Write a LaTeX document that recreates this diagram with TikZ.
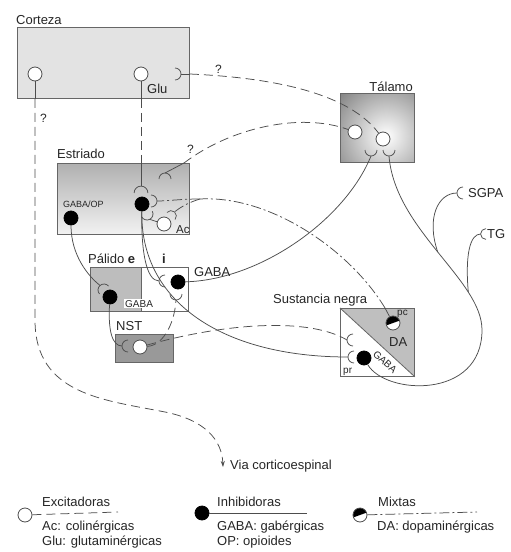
\documentclass[tikz,border=0pt]{standalone}
\usepackage{fontspec}
\setmainfont{Liberation Sans}
\usetikzlibrary{arrows.meta}
\definecolor{ln}{HTML}{4D4D4D}
\definecolor{bd}{HTML}{666666}
\begin{document}
\begin{tikzpicture}[x=1pt,y=1pt,
  lbl/.style={font=\fontsize{13}{15}\selectfont, inner sep=0pt, text=black!85},
  sml/.style={font=\fontsize{10}{11}\selectfont, inner sep=0pt, text=black!85},
  q/.style={font=\fontsize{12}{12}\selectfont, inner sep=0pt, text=black!85, anchor=base west},
  axon/.style={draw=ln, line width=0.75pt},
  excl/.style={axon, dash pattern=on 9pt off 5pt},
  mixl/.style={axon, dash pattern=on 10pt off 3pt on 2pt off 3pt},
  exc/.style={circle, draw=ln, fill=white, line width=0.8pt, minimum size=14pt, inner sep=0pt},
  inh/.style={exc, fill=black, draw=black},
  mix/.style={exc, path picture={\fill[black] (path picture bounding box.center) -- ++(20:7.5) arc[start angle=20,end angle=200,radius=7.5] -- cycle;}},
  area/.style={draw=bd, line width=0.8pt, inner sep=0pt, anchor=north west},
  cupr/.pic={\draw[axon] (0,6) arc[start angle=90,end angle=270,radius=6]; \coordinate (-s) at (-6,0);}
]
\useasboundingbox (0,0) rectangle (511,-552);
\fill[white] (0,0) rectangle (511,-552);

% ---------- areas ----------
\node[area, fill=gray!22, minimum width=172pt, minimum height=71pt] (cortex) at (17,-27) {};
\begin{scope}
  \clip (340,-93) rectangle (414,-162);
  \fill[black!48] (340,-93) rectangle (414,-162);
  \shade[inner color=white, outer color=black!48] (386,-136) circle (62pt);
\end{scope}
\node[area, minimum width=74pt, minimum height=69pt] (thal) at (340,-93) {};
\node[area, top color=gray!62, bottom color=gray!10, minimum width=132pt, minimum height=71pt] (striatum) at (57,-163) {};
\node[area, fill=gray!52, minimum width=51pt, minimum height=44pt] (gpe) at (90,-267) {};
\node[area, fill=white, minimum width=47pt, minimum height=44pt] (gpi) at (141,-267) {};
\node[area, fill=gray!80, minimum width=58pt, minimum height=28pt] (nst) at (115,-334) {};
\node[area, fill=white, minimum width=74pt, minimum height=68pt] (sn) at (340,-308) {};
\fill[gray!50] (sn.north west) -- (sn.north east) -- (sn.south east) -- cycle;
\draw[bd, line width=0.8pt] (sn.north west) -- (sn.south east);
\draw[bd, line width=0.8pt] (sn.north west) rectangle (sn.south east);

% ---------- neurons ----------
\node[exc] (c1) at (35,-74) {};
\node[exc] (c2) at (141,-74) {};
\node[exc] (t1) at (355,-132) {};
\node[exc] (t2) at (383,-139) {};
\node[inh] (s1) at (71,-218) {};
\node[inh] (s2) at (142,-204) {};
\node[exc] (ac) at (164,-224) {};
\node[inh] (e1) at (110,-297) {};
\node[inh] (i1) at (178,-282) {};
\node[exc] (n1) at (140,-347) {};
\node[mix] (sn1) at (393,-323) {};
\node[inh] (sn2) at (364,-358) {};

% ---------- terminals (cups) ----------
\pic[rotate=180] (cc) at (175,-74) {cupr};
\pic[rotate=90] (tl) at (371,-150) {cupr};
\pic[rotate=90] (tr) at (389,-150) {cupr};
\pic[rotate=-90] (ys) at (165,-179) {cupr};
\pic[rotate=-90, scale=1.15] (sa) at (141,-193) {cupr};
\pic[rotate=180] (ca) at (151,-201) {cupr};
\pic[rotate=117] (cb) at (147,-214) {cupr};
\pic[rotate=229, scale=0.9] (cac) at (171,-216) {cupr};
\pic[rotate=-49] (ce) at (104,-290) {cupr};
\pic[rotate=0] (cil) at (165,-281) {cupr};
\pic[rotate=90] (cib) at (176,-294) {cupr};
\pic[rotate=0] (cn) at (128,-346) {cupr};
\pic[rotate=0] (csu) at (353,-340) {cupr};
\pic[rotate=0] (csl) at (354,-357) {cupr};
\pic[rotate=0] (cg) at (463,-193) {cupr};
\pic[rotate=0, scale=0.9] (ct) at (486,-234) {cupr};

% ---------- connectors ----------
% cortex -> striatum
\draw[axon] (c2) -- (c2 |- cortex.south);
\draw[excl] (c2 |- cortex.south) -- (c2 |- striatum.north);
\draw[axon] (c2 |- striatum.north) -- (sa-s);
% cortex -> corticospinal
\coordinate (viaend) at (223,-467);
\draw[axon] (c1) -- (c1 |- cortex.south);
\draw[excl, -{Stealth[length=6pt,width=4pt]}] (c1 |- cortex.south) -- (35,-320)
   .. controls (35,-395) and (105,-400) .. (165,-412)
   .. controls (205,-420) and (222,-440) .. (viaend);
% cortex -> thalamus
\draw[axon] (cc-s) -- (cc-s -| cortex.east);
\draw[excl] (cc-s -| cortex.east) .. controls (280,-78) and (350,-95) .. (t2);
% striatum -> thalamus
\coordinate (ysx) at (184,-163);
\draw[axon] (ys-s) -- (ysx);
\draw[excl] (ysx) .. controls (230,-128) and (300,-112) .. (t1);
% DA (SNpc -> striatum)
\coordinate (snstub) at (385,-308);
\coordinate (dasplit) at (200,-199);
\draw[axon] (sn1) -- (snstub);
\draw[mixl] (snstub) .. controls (350,-250) and (270,-195) .. (dasplit);
\draw[mixl] (dasplit) .. controls (180,-199) and (168,-201) .. (ca-s);
\draw[mixl] (dasplit) .. controls (190,-202) and (182,-206) .. (cac-s);
% striatal outputs
\draw[axon] (ac) -- (cb-s);
\draw[axon] (s1) .. controls (71,-255) and (88,-276) .. (ce-s);
\draw[axon] (s2) .. controls (141,-250) and (146,-281) .. (cil-s);
\draw[axon] (s2) .. controls (140,-300) and (220,-357) .. (csl-s);
% GPe -> NST
\draw[axon] (e1) .. controls (108,-330) and (112,-346) .. (cn-s);
% GPi -> thalamus
\draw[axon] (i1) .. controls (260,-280) and (345,-220) .. (tl-s);
% NST -> GPi, SN
\draw[excl] (n1) .. controls (165,-345) and (175,-320) .. (cib-s);
\draw[excl] (n1) .. controls (230,-322) and (310,-318) .. (csu-s);
% SNpr -> thalamus, SGPA, TG
\draw[axon] (sn2) .. controls (385,-395) and (482,-400) .. (482,-330)
   .. controls (482,-280) and (395,-230) .. (tr-s)
   coordinate[pos=0.25] (tgb) coordinate[pos=0.5] (sgb);
\draw[axon] (sgb) .. controls (426,-218) and (438,-193) .. (cg-s);
\draw[axon] (tgb) .. controls (465,-255) and (470,-234) .. (ct-s);

% ---------- labels ----------
\node[lbl, anchor=base west] (tcor) at (16,-24) {Corteza};
\node[lbl, anchor=base west] (tglu) at (147,-93) {Glu};
\node[q] (q1) at (40,-122) {?};
\node[q] (q2) at (215,-73) {?};
\node[q] (q3) at (187,-153) {?};
\node[lbl, anchor=base east] (ttal) at (413,-91) {Tálamo};
\node[lbl, anchor=base west] (test) at (57,-158) {Estriado};
\node[font=\fontsize{9}{10}\selectfont, inner sep=0pt, text=black!85, anchor=base west] (tgo) at (63,-207) {GABA/OP};
\node[font=\fontsize{11.5}{12}\selectfont, inner sep=0pt, text=black!85, anchor=base west] (tac) at (176,-233) {Ac};
\node[lbl, anchor=base west] (tpal) at (88,-263) {Pálido \textbf{e}};
\node[lbl, anchor=base west] (ti) at (162,-263) {\textbf{i}};
\node[lbl, anchor=base west] (tgabai) at (194,-276) {GABA};
\node[sml, anchor=base west, fill=white, inner xsep=1pt, inner ysep=1pt] (tgabae) at (124,-307) {GABA};
\node[lbl, anchor=base west] (tnst) at (116,-330) {NST};
\node[lbl, anchor=base west] (tsn) at (273,-303) {Sustancia negra};
\node[lbl, anchor=base west] (tda) at (389,-346) {DA};
\node[sml, anchor=base west] (tpc) at (397,-315) {pc};
\node[sml, anchor=base west] (tpr) at (343,-373) {pr};
\node[font=\fontsize{10}{11}\selectfont, inner sep=0pt, text=black!85, rotate=-42] (tgsn) at (385,-362) {GABA};
\node[lbl, anchor=west] (tsg) at (468,-193) {SGPA};
\node[lbl, anchor=west] (ttg) at (487,-234) {TG};
\node[lbl, anchor=base west] (via) at (230,-469) {Via corticoespinal};

% ---------- legend ----------
\node[exc] (L1) at (25,-515) {};
\node[inh] (L2) at (202,-513) {};
\node[mix] (L3) at (360,-515) {};
\coordinate (L1e) at (118,-512);
\coordinate (L2e) at (307,-513);
\coordinate (L3e) at (477,-512);
\draw[excl] (L1) -- (L1e);
\draw[axon] (L2) -- (L2e);
\draw[mixl] (L3) -- (L3e);
\node[lbl, anchor=base west] (lx1) at (42,-506) {Excitadoras};
\node[lbl, anchor=base west] (lx2) at (42,-530) {Ac: colinérgicas};
\node[lbl, anchor=base west] (lx3) at (42,-545) {Glu: glutaminérgicas};
\node[lbl, anchor=base west] (li1) at (217,-506) {Inhibidoras};
\node[lbl, anchor=base west] (li2) at (217,-530) {GABA: gabérgicas};
\node[lbl, anchor=base west] (li3) at (217,-545) {OP: opioides};
\node[lbl, anchor=base west] (lm1) at (378,-506) {Mixtas};
\node[lbl, anchor=base west] (lm2) at (377,-530) {DA: dopaminérgicas};
\end{tikzpicture}
\end{document}
